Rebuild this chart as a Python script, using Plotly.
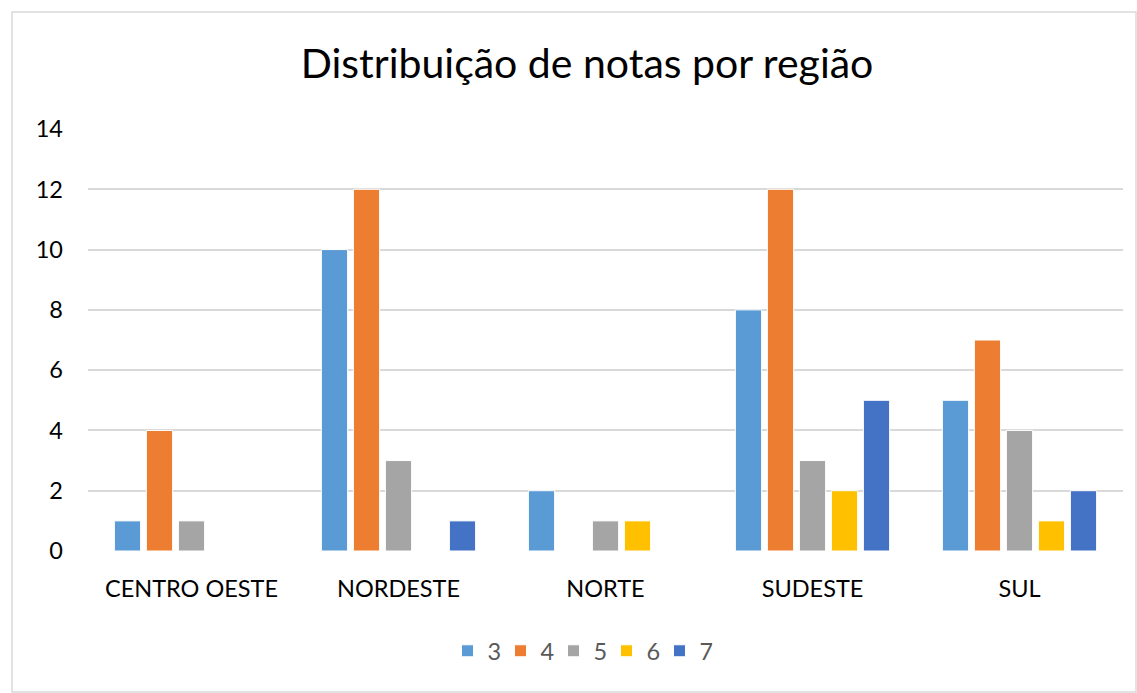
import plotly.graph_objects as go

categories = ["CENTRO OESTE", "NORDESTE", "NORTE", "SUDESTE", "SUL"]
series_names = ["3", "4", "5", "6", "7"]
nota_3 = [1, 10, 2, 8, 5]
nota_4 = [4, 12, 0, 12, 7]
nota_5 = [1, 3, 1, 3, 4]
nota_6 = [0, 0, 1, 2, 1]
nota_7 = [0, 1, 0, 5, 2]
series_values = [nota_3, nota_4, nota_5, nota_6, nota_7]
colors = ["#5B9BD5", "#ED7D31", "#A5A5A5", "#FFC000", "#4472C4"]
y_ticks = [0, 2, 4, 6, 8, 10, 12, 14]

W, H = 1137, 693
L, R, T, B = 88, 14, 129, 142
pw, ph = W - L - R, H - T - B

def px_x(x):
    return (x - L) / pw

def px_y(y):
    return (H - B - y) / ph

FONT = "Lato"

fig = go.Figure()
for name, vals, col in zip(series_names, series_values, colors):
    fig.add_trace(go.Bar(
        name=name, x=categories, y=vals,
        marker=dict(color=col, line=dict(color="white", width=1)),
    ))

fig.update_layout(
    width=W, height=H,
    margin=dict(l=L, r=R, t=T, b=B),
    paper_bgcolor="white", plot_bgcolor="white",
    barmode="group", bargap=0.227, bargroupgap=0.18,
    title=dict(text="Distribuição de notas por região", x=587 / W, xanchor="center",
               xref="container", y=1 - 64 / H, yanchor="middle",
               font=dict(family=FONT, size=41, color="#000000")),
    font=dict(family=FONT, color="#000000"),
    xaxis=dict(showgrid=False, showline=False, ticks="", zeroline=False,
               tickfont=dict(family=FONT, size=23.5, color="#000000"), ticklabelstandoff=21),
    yaxis=dict(range=[0, 14], tickvals=y_ticks, showgrid=True, gridcolor="#D9D9D9",
               gridwidth=1.5, zeroline=False, showline=False, ticks="",
               tickfont=dict(family=FONT, size=23.5, color="#000000"), ticklabelstandoff=24),
    legend=dict(orientation="h", x=px_x(580), xanchor="center", y=px_y(651),
                yanchor="middle", font=dict(family=FONT, size=23.5, color="#595959"),
                traceorder="normal", itemwidth=30, entrywidth=8, itemclick=False),
    showlegend=True,
)

fig.add_shape(type="rect", xref="paper", yref="paper",
              x0=px_x(12), x1=px_x(1136), y0=px_y(692), y1=px_y(12),
              line=dict(color="#D9D9D9", width=1.5), fillcolor="rgba(0,0,0,0)", layer="below")

fig.write_html("out.html", config={"displayModeBar": False},
               post_script="document.body.style.margin='0';document.body.style.overflow='hidden';")
